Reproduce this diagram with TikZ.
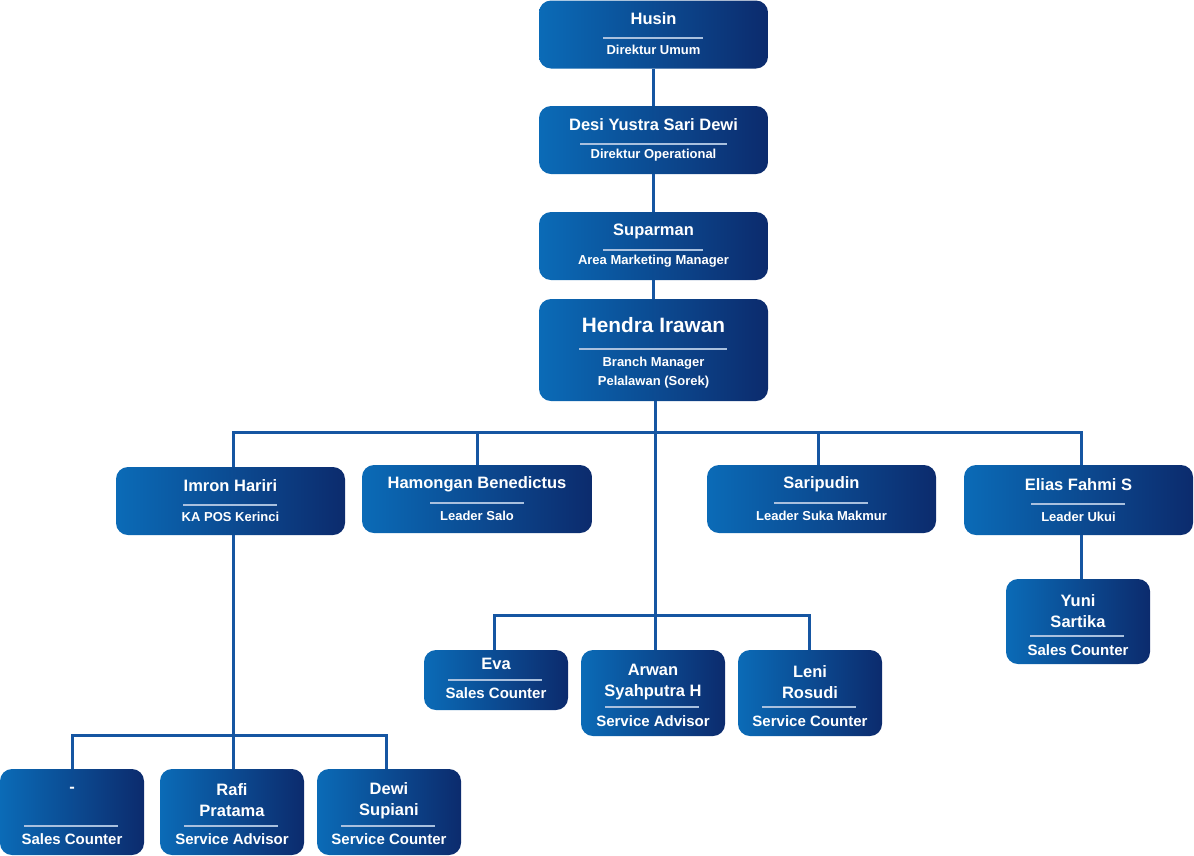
\documentclass[tikz,border=0pt]{standalone}
\usepackage{fontspec}
\setmainfont{Liberation Sans}
\definecolor{bl}{HTML}{0B6BB7}
\definecolor{bd}{HTML}{0C2B6D}
\definecolor{ln}{HTML}{1656A2}
\definecolor{dv}{HTML}{A9C0DE}
\tikzset{
  pbox/.style={rounded corners=12pt, left color=bl, right color=bd, draw=none, inner sep=0pt},
  nm/.style={text=white, font=\fontsize{16.5}{21}\selectfont\bfseries, align=center, inner sep=0pt},
  big/.style={text=white, font=\fontsize{20.8}{22}\selectfont\bfseries, align=center, inner sep=0pt},
  rl/.style={text=white, font=\fontsize{13}{19}\selectfont\bfseries, align=center, inner sep=0pt},
  rlb/.style={text=white, font=\fontsize{15}{19}\selectfont\bfseries, align=center, inner sep=0pt},
  dvd/.style={draw=dv, line width=1.3pt},
  conn/.style={draw=ln, line width=3pt},
}
\begin{document}
\begin{tikzpicture}[x=1pt,y=-1pt]
\useasboundingbox (0,0) rectangle (1194,855);
\coordinate (busA) at (655,432);
\coordinate (busB) at (655,615);
\coordinate (busC) at (233,735);
% boxes
\node[pbox, minimum width=229pt, minimum height=68pt] (husin) at (653.5,34.5) {};
\node[pbox, minimum width=229pt, minimum height=68pt] (desi) at (653.5,140) {};
\node[pbox, minimum width=229pt, minimum height=68pt] (suparman) at (653.5,246) {};
\node[pbox, minimum width=229pt, minimum height=102pt] (hendra) at (653.5,350) {};
\node[pbox, minimum width=229pt, minimum height=68pt] (imron) at (230.5,501) {};
\node[pbox, minimum width=230pt, minimum height=68pt] (hamongan) at (477,499) {};
\node[pbox, minimum width=229pt, minimum height=68pt] (saripudin) at (821.5,499) {};
\node[pbox, minimum width=229pt, minimum height=70pt] (elias) at (1078.5,500) {};
\node[pbox, minimum width=144pt, minimum height=85pt] (yuni) at (1078,621.5) {};
\node[pbox, minimum width=144pt, minimum height=60pt] (eva) at (496,680) {};
\node[pbox, minimum width=144pt, minimum height=86pt] (arwan) at (653,693) {};
\node[pbox, minimum width=144pt, minimum height=86pt] (leni) at (810,693) {};
\node[pbox, minimum width=144pt, minimum height=86pt] (dash) at (72,812) {};
\node[pbox, minimum width=144pt, minimum height=86pt] (rafi) at (232,812) {};
\node[pbox, minimum width=144pt, minimum height=86pt] (dewi) at (389,812) {};
% connectors
\draw[conn] (husin.south) -- (desi.north);
\draw[conn] (desi.south) -- (suparman.north);
\draw[conn] (suparman.south) -- (hendra.north);
\draw[conn] (hendra.south -| busA) -- (arwan.north -| busA);
\draw[conn] (imron.north -| busC) |- (busA) -| (elias.north -| 1081,0);
\draw[conn] (hamongan.north) -- (hamongan.north |- busA);
\draw[conn] (saripudin.north -| 818,0) -- (818,432);
\draw[conn] (eva.north -| 494,0) |- (busB) -| (leni.north -| 809,0);
\draw[conn] (imron.south -| busC) -- (rafi.north -| busC);
\draw[conn] (dash.north) |- (busC) -| (dewi.north -| 386,0);
\draw[conn] (elias.south -| 1081,0) -- (yuni.north -| 1081,0);
% texts
\node[nm] at (653.5,19) {Husin};
\draw[dvd] (603,38) -- (703,38);
\node[rl] at (653.5,50) {Direktur Umum};
\node[nm] at (653.5,125) {Desi Yustra Sari Dewi};
\draw[dvd] (580,144) -- (727,144);
\node[rl] at (653.5,155) {Direktur Operational};
\node[nm] at (653.5,231) {Suparman};
\draw[dvd] (603,250) -- (703,250);
\node[rl] at (653.5,261) {Area Marketing Manager};
\node[big] at (653.5,325) {Hendra Irawan};
\draw[dvd] (579,349) -- (727,349);
\node[rl] at (653.5,373) {Branch Manager\\Pelalawan (Sorek)};
\node[nm] at (230.5,486) {Imron Hariri};
\draw[dvd] (183,505) -- (277,505);
\node[rl] at (230.5,517) {KA POS Kerinci};
\node[nm] at (477,484) {Hamongan Benedictus};
\draw[dvd] (430,503) -- (524,503);
\node[rl] at (477,516) {Leader Salo};
\node[nm] at (821.5,484) {Saripudin};
\draw[dvd] (774,503) -- (868,503);
\node[rl] at (821.5,516) {Leader Suka Makmur};
\node[nm] at (1078.5,485) {Elias Fahmi S};
\draw[dvd] (1031,504) -- (1125,504);
\node[rl] at (1078.5,517) {Leader Ukui};
\node[nm] at (1078,611.5) {Yuni\\Sartika};
\draw[dvd] (1030,636) -- (1124,636);
\node[rlb] at (1078,650) {Sales Counter};
\node[nm] at (496,664) {Eva};
\draw[dvd] (448,680) -- (542,680);
\node[rlb] at (496,693) {Sales Counter};
\node[nm] at (653,682.5) {Arwan\\Syahputra H};
\draw[dvd] (605,707) -- (699,707);
\node[rlb] at (653,721) {Service Advisor};
\node[nm] at (810,682.5) {Leni\\Rosudi};
\draw[dvd] (762,707) -- (856,707);
\node[rlb] at (810,721) {Service Counter};
\node[nm] at (72,790) {-};
\draw[dvd] (24,826) -- (118,826);
\node[rlb] at (72,839) {Sales Counter};
\node[nm] at (232,800.5) {Rafi\\Pratama};
\draw[dvd] (184,826) -- (278,826);
\node[rlb] at (232,839) {Service Advisor};
\node[nm] at (389,800.5) {Dewi\\Supiani};
\draw[dvd] (341,826) -- (435,826);
\node[rlb] at (389,839) {Service Counter};
\end{tikzpicture}
\end{document}
